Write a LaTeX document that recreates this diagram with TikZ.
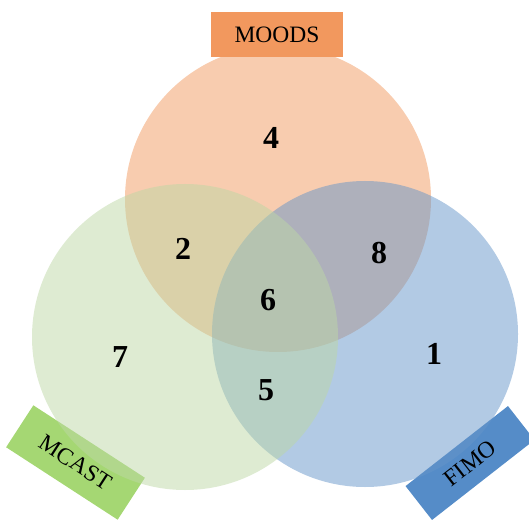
\documentclass[tikz,border=0pt]{standalone}
\usepackage{fontspec}
\setmainfont{Liberation Serif}
\definecolor{corange}{RGB}{241,153,95}
\definecolor{cblue}{RGB}{101,149,201}
\definecolor{cgreen}{RGB}{189,215,165}
\definecolor{borange}{RGB}{242,152,94}
\definecolor{bgreen}{RGB}{165,215,115}
\definecolor{bblue}{RGB}{85,140,200}
\tikzset{
  setc/.style={circle,minimum size=306pt,inner sep=0pt,outer sep=0pt,fill opacity=0.5},
  tagbox/.style={rectangle,inner sep=0pt,outer sep=0pt},
  tagtxt/.style={font=\fontsize{23.5}{24}\selectfont,text=black,inner sep=0pt},
  num/.style={font=\fontsize{32}{32}\selectfont\bfseries,text=black}
}
\begin{document}
\begin{tikzpicture}[x=1pt,y=-1pt]
\useasboundingbox (0,0) rectangle (529,521);
\node[tagbox,fill=borange,minimum width=132pt,minimum height=45pt] (moodsbox) at (277,34.5) {};
\node[tagbox,fill=bgreen,minimum width=133pt,minimum height=50pt,rotate=-33] (mcastbox) at (75.5,462.5) {};
\node[tagbox,fill=bblue,minimum width=130pt,minimum height=43pt,rotate=38] (fimobox) at (470,463) {};
\node[setc,fill=corange] (moods) at (278,199) {};
\node[setc,fill=cblue] (fimo) at (365,334) {};
\node[setc,fill=cgreen] (mcast) at (185,337) {};
\node[tagtxt] (moodst) at (moodsbox) {MOODS};
\node[tagtxt,rotate=-33] (mcastt) at (mcastbox) {MCAST};
\node[tagtxt,rotate=38] (fimot) at (fimobox) {FIMO};
\node[num] (n4) at (271,138) {4};
\node[num] (n2) at (183,249) {2};
\node[num] (n8) at (379,253) {8};
\node[num] (n6) at (268,300) {6};
\node[num] (n7) at (120,357) {7};
\node[num] (n1) at (434,354) {1};
\node[num] (n5) at (266,390) {5};
\end{tikzpicture}
\end{document}
